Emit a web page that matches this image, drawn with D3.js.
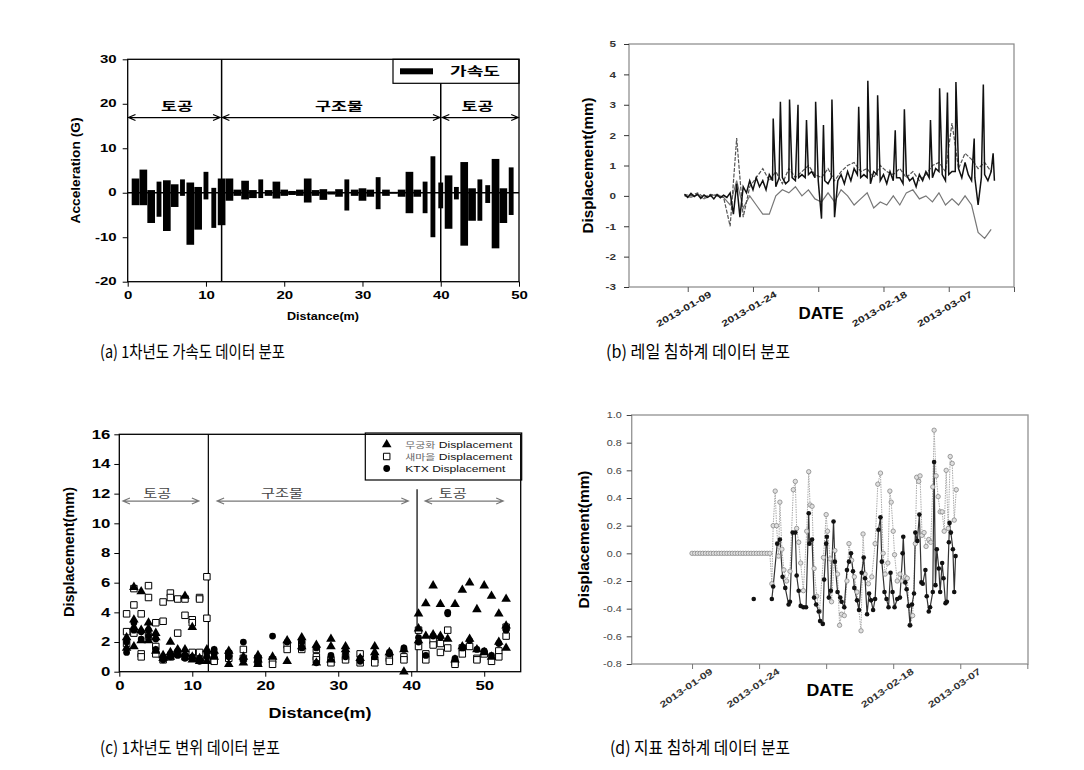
<!DOCTYPE html>
<html>
<head>
<meta charset="utf-8">
<script src="https://cdn.jsdelivr.net/npm/d3@7"></script>
<style>
body { margin: 0; background: #fff; }
svg { display: block; }
</style>
</head>
<body>
<svg id="fig" width="1084" height="770"></svg>
<script>
// ---------------- data: (a) acceleration bars ----------------
var accX = d3.range(1, 50);   // measuring points 1..49 m
var accTop = [3.2,5.2,0.6,2.5,2.8,1.9,3.0,2.3,1.3,4.7,1.1,3.2,3.2,0.7,2.7,0.6,3.0,0.6,2.5,0.7,0.4,0.7,3.2,0.6,0.8,0.3,0.8,3.0,0.7,1.0,0.7,3.5,0.7,0.2,0.7,4.7,0.7,2.5,8.2,2.3,3.9,1.3,6.9,1.0,3.0,1.7,7.6,1.0,5.7];
var accBottom = [-2.8,-2.8,-6.8,-5.4,-8.6,-3.2,-0.7,-11.7,-8.3,-1.5,-7.9,-7.3,-1.8,-0.7,-1.5,-1.2,-1.2,-0.7,-1.3,-0.7,-0.5,-0.7,-2.2,-0.7,-1.6,-0.4,-0.9,-4.0,-0.7,-1.8,-0.9,-3.7,-0.7,-0.2,-0.9,-4.6,-0.9,-4.6,-10.0,-3.5,-8.1,-1.5,-11.9,-6.3,-6.3,-2.3,-12.5,-6.8,-5.0];
var accNarrow = [4,7,10,11,17,28,32,38,39,40,42,45,46,49];
var accXTicks = [0,10,20,30,40,50];
var accYTicks = [-20,-10,0,10,20,30];
var zonesA = [
    { name: "토공", from: 0.1, to: 11.8, at: 6.3 },
    { name: "구조물", from: 12.1, to: 39.9, at: 27 },
    { name: "토공", from: 40.2, to: 49.9, at: 44.7 }
];
var zoneLevelA = 16.9;

// ---------------- data: (b) rail settlement ----------------
var dateTicks = [1,2,3,4,5,6];
var dateLabels = ["2013-01-09","2013-01-24","","2013-02-18","2013-03-07",""];
var railYTicks = [-3,-2,-1,0,1,2,3,4,5];
// base readings, sampled every 0.05 axis units from 0.95 (A) / every 0.1 (B, C)
var railA = [0.05,-0.05,0.08,-0.02,0.05,-0.08,0.03,-0.05,0.02,-0.1,
    0.04,-0.06,0.02,-0.05,0.1,-0.6,0.4,-0.7,0.3,0.1,
    0.5,0.2,0.6,0.3,0.5,0.2,0.7,0.5,0.3,0.6,
    0.6,0.4,0.5,0.6,0.5,0.6,0.7,0.6,0.7,0.8,
    0.6,0.5,-0.75,0.5,0.4,0.6,-0.7,0.5,0.7,0.4,
    0.8,0.5,0.9,0.7,0.6,0.7,0.6,0.4,0.8,0.7,
    0.5,0.7,0.4,0.8,0.5,0.6,0.6,0.4,0.7,0.5,
    0.6,0.3,0.7,0.5,0.8,0.6,0.6,0.9,0.8,0.7,
    0.5,0.7,0.8,0.8,0.9,0.6,1.1,0.7,0.5,0.6,
    -0.3,0.6,0.7,0.5,0.8,0.5];
// short peaks of series A: [axis position, value]
var railSpikes = [[2.31,2.55],[2.42,3.1],[2.56,3.17],[2.69,3.0],[2.82,2.5],[2.96,3.1],[3.08,2.33],[3.21,3.17],
    [3.62,2.93],[3.76,3.79],[3.91,3.31],[4.18,2.16],[4.32,2.85],[4.72,2.5],[4.86,3.54],[4.98,3.4],
    [5.11,3.75],[5.39,1.89],[5.53,3.67],[5.68,1.4]];
var railB = [0.05,0.0,0.1,-0.05,0.05,0.0,-0.05,-1.0,1.9,-0.7,
    0.3,0.6,0.9,0.5,0.8,0.4,0.9,0.6,0.8,1.0,
    0.7,0.6,0.9,0.5,0.8,1.0,1.1,0.8,0.9,0.6,
    1.0,0.8,0.7,0.9,0.6,0.8,0.5,0.7,1.0,1.1,
    0.8,2.4,0.9,1.4,1.2,0.9,1.1,0.8];
var railC = [0.0,-0.05,0.05,-0.1,0.0,0.05,-0.05,-0.3,0.5,-0.4,
    0.0,-0.3,-0.6,-0.6,0.0,0.2,0.1,0.3,0.0,0.2,
    -0.1,-0.2,0.1,-0.2,0.2,0.0,-0.3,-0.1,0.1,-0.4,
    -0.2,-0.3,0.0,-0.3,0.1,0.2,-0.1,0.0,-0.2,0.1,
    -0.3,-0.1,-0.3,0.0,-0.3,-1.2,-1.4,-1.1];

// ---------------- data: (c) displacement scatter ----------------
var disTri = [[1,[2.3,1.6]],[2,[5.7,3.5,3.0,1.7]],[3,[5.4,2.8,2.1]],[4,[3.3,2.9,2.1]],[5,[2.6,2.3,1.4]],[6,[1.1,0.9]],
    [7,[2.0,1.3,1.0]],[8,[1.5,1.2]],[9,[5.1,1.5,1.2]],[10,[3.0,1.0,0.8]],[11,[0.9,0.7]],[12,[1.5,0.7]],
    [13,[1.4,1.0]],[15,[1.4,0.5]],[17,[1.0,0.6]],[19,[1.1,0.8,0.5]],[21,[1.0]],[23,[2.1,0.7]],[25,[2.3,1.7]],
    [27,[1.8,0.6]],[29,[2.2,1.7,0.8]],[31,[1.7,1.5]],[33,[0.9]],[35,[1.7,1.3]],[37,[1.3]],[39,[1.5,0.0]],
    [41,[3.9,2.9,2.1]],[42,[4.6,2.4]],[43,[5.8,2.5]],[44,[4.55,2.4]],[45,[2.2]],[46,[4.55,0.8]],[47,[5.5,1.7]],
    [48,[6.0,2.2]],[49,[4.2,1.5]],[50,[5.8,1.3]],[51,[5.1,1.0]],[52,[3.9,2.0]],[53,[4.9,3.1,1.6]]];
var disSq = [[1,[3.9,2.7,1.9]],[2,[5.6,4.5,2.6]],[3,[3.9,1.2,1.0]],[4,[5.8,5.0,2.4]],[5,[3.3,1.7,1.2]],[6,[4.7,3.4,0.8]],
    [7,[5.3,5.0,1.0]],[8,[4.9,2.6,1.2]],[9,[4.9,3.8,1.0]],[10,[3.5,3.3,1.3]],[11,[5.0,4.9,1.3,0.8]],[12,[6.4,3.6,0.8]],
    [13,[0.8,0.7]],[15,[1.2,0.9]],[17,[1.5,0.9]],[19,[0.9,0.6]],[21,[0.8,0.5]],[23,[1.8,1.5]],[25,[1.9,1.5]],
    [27,[1.5,1.0,0.8]],[29,[0.8,0.6]],[31,[1.0,0.8]],[33,[1.2,0.6]],[35,[0.8,0.6]],[37,[0.9,0.7]],[39,[1.0,0.8]],
    [41,[2.8,1.7]],[42,[1.2,0.8]],[43,[2.1,1.8]],[44,[1.9,1.3]],[45,[2.8,1.6]],[46,[0.6,0.5]],[47,[1.6,1.2]],
    [48,[1.7]],[49,[0.9,0.8]],[50,[1.2]],[51,[0.7]],[52,[1.4,1.0]],[53,[3.0,2.4]]];
var disCirc = [[1,[2.0,1.3]],[2,[3.3,2.8]],[3,[2.7,2.2]],[4,[2.8,2.4]],[5,[2.2,1.5]],[6,[1.0,0.8]],
    [7,[1.2,1.0]],[8,[1.4,1.1]],[9,[1.1,0.9]],[10,[1.0,0.9]],[11,[0.8,0.7]],[12,[1.3,1.0]],
    [13,[1.5,1.2]],[15,[1.3,1.0]],[17,[2.0,0.8]],[19,[0.9,0.6]],[21,[2.4]],[23,[2.0]],[25,[2.0,1.6]],
    [27,[1.6,0.6]],[29,[1.1]],[31,[1.3,1.0]],[33,[0.9,0.7]],[35,[1.0]],[37,[1.3,1.2]],[39,[1.6,1.5]],
    [41,[2.3,2.0]],[42,[1.1]],[43,[2.4]],[44,[2.3]],[45,[4.0,3.9]],[46,[0.9]],[47,[1.6]],
    [48,[2.1]],[49,[1.5]],[50,[1.4]],[51,[1.1]],[52,[1.9]],[53,[2.8]]];
var disXTicks = [0,10,20,30,40,50];
var disYTicks = [0,2,4,6,8,10,12,14,16];
var legendC = [
    { kr: "무궁화", en: " Displacement", shape: "tri" },
    { kr: "새마을", en: " Displacement", shape: "sq" },
    { kr: "", en: "KTX   Displacement", shape: "circ" }
];
var zonesC = [
    { name: "토공", from: 0.5, to: 10.9, at: 5.2 },
    { name: "구조물", from: 13.4, to: 39.6, at: 22.3 },
    { name: "토공", from: 41.9, to: 52.6, at: 45.7 }
];
var zoneLevelC = 11.5;
var dividersC = [12.2, 40.8];

// ---------------- data: (d) surface settlement ----------------
var surfYTicks = [-0.8,-0.6,-0.4,-0.2,0.0,0.2,0.4,0.6,0.8,1.0];
var surfGray = [[1.00,0],[1.04,0],[1.08,0],[1.12,0],[1.16,0],[1.20,0],[1.24,0],[1.28,0],[1.32,0],[1.36,0],
    [1.40,0],[1.44,0],[1.48,0],[1.52,0],[1.56,0],[1.60,0],[1.64,0],[1.68,0],[1.72,0],[1.76,0],
    [1.80,0],[1.84,0],[1.88,0],[1.92,0],[1.96,0],[2.00,0],[2.04,0],[2.08,0],[2.12,0],[2.16,0],
    [2.19,-0.22],[2.21,0.20],[2.24,0.45],[2.26,0.20],[2.29,-0.02],[2.31,0.37],[2.34,0.03],[2.37,-0.12],[2.41,-0.20],
    [2.46,-0.13],[2.51,0.46],[2.54,0.52],[2.56,0.18],[2.59,0.08],[2.62,-0.07],[2.66,-0.27],[2.71,0.16],[2.74,0.59],
    [2.76,0.35],[2.79,0.34],[2.82,-0.11],[2.86,-0.31],[2.90,-0.42],[2.96,-0.03],[3.00,0.28],[3.02,0.16],[3.06,-0.04],
    [3.08,-0.35],[3.13,0.02],[3.17,-0.15],[3.20,-0.52],[3.23,-0.44],[3.27,-0.45],[3.31,-0.20],[3.34,0.07],[3.38,-0.05],
    [3.42,-0.17],[3.46,-0.28],[3.52,-0.56],[3.55,0.14],[3.58,-0.15],[3.63,-0.22],[3.68,-0.17],[3.73,0.07],[3.77,0.50],
    [3.81,0.58],[3.85,0.0],[3.88,-0.15],[3.92,-0.07],[3.95,0.45],[3.97,0.37],[4.00,0.16],[4.02,-0.01],[4.06,-0.20],
    [4.10,-0.15],[4.13,-0.20],[4.18,-0.17],[4.21,-0.18],[4.25,-0.52],[4.29,-0.45],[4.33,0.07],[4.35,0.55],[4.38,0.52],
    [4.40,0.56],[4.43,0.13],[4.46,0.15],[4.49,0.05],[4.53,0.10],[4.56,0.08],[4.59,0.48],[4.61,0.89],[4.64,0.56],
    [4.67,0.41],[4.70,0.30],[4.73,0.30],[4.76,0.16],[4.79,0.60],[4.82,0.18],[4.85,0.70],[4.88,0.65],[4.91,0.24],[4.94,0.46]];
var surfBlack = [[2.19,-0.33],[2.21,-0.24],[2.27,0.07],[2.31,0.10],[2.35,-0.17],[2.39,-0.25],[2.44,-0.37],[2.46,-0.35],
    [2.50,0.15],[2.54,0.15],[2.56,-0.16],[2.59,-0.27],[2.62,-0.38],[2.66,-0.39],[2.70,-0.39],[2.74,0.29],[2.75,0.07],
    [2.79,0.10],[2.82,-0.32],[2.85,-0.37],[2.89,-0.42],[2.91,-0.49],[2.95,-0.51],[2.97,-0.19],[3.00,0.07],[3.01,0.12],
    [3.04,-0.32],[3.07,-0.27],[3.11,0.23],[3.13,-0.06],[3.17,-0.28],[3.21,-0.32],[3.23,-0.35],[3.27,-0.39],[3.31,-0.12],
    [3.34,-0.06],[3.37,0.0],[3.40,-0.13],[3.42,-0.25],[3.46,-0.34],[3.49,-0.41],[3.53,-0.14],[3.56,-0.03],[3.58,-0.18],
    [3.61,-0.44],[3.64,-0.29],[3.67,-0.34],[3.70,-0.41],[3.73,-0.33],[3.78,0.17],[3.81,0.26],[3.83,-0.06],[3.87,-0.28],
    [3.90,-0.33],[3.93,-0.39],[3.96,-0.14],[3.99,-0.28],[4.02,-0.39],[4.06,-0.33],[4.10,-0.32],[4.14,0.0],[4.15,0.12],
    [4.18,-0.21],[4.20,-0.26],[4.23,-0.38],[4.25,-0.52],[4.28,-0.37],[4.31,-0.29],[4.33,0.15],[4.36,0.09],[4.39,0.28],
    [4.42,-0.21],[4.44,-0.22],[4.48,-0.12],[4.50,-0.31],[4.53,-0.42],[4.55,-0.39],[4.59,-0.28],[4.61,0.66],[4.63,-0.23],
    [4.65,0.03],[4.68,-0.11],[4.70,-0.28],[4.73,-0.07],[4.75,-0.18],[4.78,-0.36],[4.80,-0.35],[4.83,0.08],[4.84,0.22],
    [4.86,0.15],[4.89,0.03],[4.91,-0.28],[4.93,-0.02]];
var surfLone = [[1.92,-0.33]];

var captions = [
    { text: "(a) 1차년도 가속도 데이터 분포", x: 100, y: 358, w: 185 },
    { text: "(b) 레일 침하계 데이터 분포", x: 606, y: 358, w: 184 },
    { text: "(c) 1차년도 변위 데이터 분포", x: 100, y: 754, w: 180 },
    { text: "(d) 지표 침하계 데이터 분포", x: 610, y: 754, w: 180 }
];

// ---------------------------------------------------------------
var FONT = "'Liberation Sans', Arial, sans-serif";
var KR = "'Noto Sans CJK KR', sans-serif";
var svg = d3.select("#fig");
svg.append("rect").attr("width", 1084).attr("height", 770).attr("fill", "#fff");

function frame(g, x, y, col, sw) {
    g.append("rect")
        .attr("x", x.range()[0]).attr("y", y.range()[1])
        .attr("width", x.range()[1] - x.range()[0])
        .attr("height", y.range()[0] - y.range()[1])
        .attr("fill", "none").attr("stroke", col).attr("stroke-width", sw);
}

// tick labels in the picture look stretched sideways, so scale them in x
function styleTicks(axisG, size, weight, k, col) {
    axisG.attr("font-family", FONT).attr("color", col);
    axisG.select(".domain").remove();
    axisG.selectAll("text")
        .attr("font-size", size).attr("font-weight", weight).attr("fill", col)
        .each(function () {
            var t = d3.select(this);
            var x = +t.attr("x") || 0;
            t.attr("x", x / k).attr("transform", "scale(" + k + ",1)");
        });
}

function yTitle(g, text, cx, cy, size, len) {
    g.append("text")
        .attr("transform", "translate(" + cx + "," + cy + ") rotate(-90)")
        .attr("text-anchor", "middle").attr("dy", "0.35em")
        .attr("font-family", FONT).attr("font-weight", "bold").attr("font-size", size)
        .attr("textLength", len).attr("lengthAdjust", "spacingAndGlyphs")
        .text(text);
}

function xTitle(g, text, cx, cy, size, len) {
    g.append("text")
        .attr("x", cx - len / 2).attr("y", cy).attr("dy", "0.35em")
        .attr("font-family", FONT).attr("font-weight", "bold").attr("font-size", size)
        .attr("textLength", len).attr("lengthAdjust", "spacingAndGlyphs")
        .text(text);
}

function arrows(g, x, yPix, zones, col) {
    zones.forEach(function (z) {
        var x1 = x(z.from), x2 = x(z.to);
        var p = d3.path();
        p.moveTo(x1, yPix); p.lineTo(x2, yPix);
        p.moveTo(x1 + 7, yPix - 3); p.lineTo(x1, yPix); p.lineTo(x1 + 7, yPix + 3);
        p.moveTo(x2 - 7, yPix - 3); p.lineTo(x2, yPix); p.lineTo(x2 - 7, yPix + 3);
        g.append("path").attr("d", p.toString()).attr("fill", "none")
            .attr("stroke", col).attr("stroke-width", 1.2);
    });
}

function flatten(list) {
    var out = [];
    list.forEach(function (e) { e[1].forEach(function (v) { out.push([e[0], v]); }); });
    return out;
}

// ======================= (a) =======================
var xa = d3.scaleLinear().domain([0, 50]).range([127.7, 519]);
var ya = d3.scaleLinear().domain([-20, 30]).range([281.7, 59.3]);
var ga = svg.append("g");

ga.selectAll("rect.acc").data(accX).join("rect")
    .attr("class", "acc")
    .attr("x", function (d) { var w = accNarrow.includes(d) ? 0.62 : 0.98; return xa(d - w / 2); })
    .attr("width", function (d) { var w = accNarrow.includes(d) ? 0.62 : 0.98; return xa(w) - xa(0); })
    .attr("y", function (d, i) { return ya(accTop[i]); })
    .attr("height", function (d, i) { return ya(accBottom[i]) - ya(accTop[i]); })
    .attr("fill", "#000");

ga.append("line").attr("x1", xa(0)).attr("x2", xa(50)).attr("y1", ya(0)).attr("y2", ya(0))
    .attr("stroke", "#000").attr("stroke-width", 1.3);

// legend box
var legA = { x: 393, y: ya(30), w: 126, h: 24 };
ga.append("rect").attr("x", legA.x).attr("y", legA.y).attr("width", legA.w).attr("height", legA.h)
    .attr("fill", "#fff").attr("stroke", "#000").attr("stroke-width", 1.2);
ga.append("rect").attr("x", legA.x + 7).attr("y", legA.y + 9).attr("width", 33).attr("height", 6).attr("fill", "#000");
ga.append("text").attr("x", legA.x + 57).attr("y", legA.y + 12).attr("dy", "0.35em")
    .attr("font-family", KR).attr("font-weight", "bold").attr("font-size", 12)
    .attr("textLength", 50).attr("lengthAdjust", "spacingAndGlyphs").text("가속도");

// section dividers
ga.append("line").attr("x1", xa(12)).attr("x2", xa(12)).attr("y1", ya(30)).attr("y2", ya(-20))
    .attr("stroke", "#000").attr("stroke-width", 1.5);
ga.append("line").attr("x1", xa(40)).attr("x2", xa(40)).attr("y1", legA.y + legA.h).attr("y2", ya(-20))
    .attr("stroke", "#000").attr("stroke-width", 1.5);

arrows(ga, xa, ya(zoneLevelA), zonesA, "#000");
ga.selectAll("text.zone").data(zonesA).join("text")
    .attr("class", "zone")
    .attr("x", function (d) { return xa(d.at); }).attr("y", ya(zoneLevelA) - 11)
    .attr("text-anchor", "middle").attr("dy", "0.35em")
    .attr("font-family", KR).attr("font-weight", "bold").attr("font-size", 12)
    .attr("textLength", function (d) { return d.name.length * 16; }).attr("lengthAdjust", "spacingAndGlyphs")
    .text(function (d) { return d.name; });

frame(ga, xa, ya, "#000", 1.3);
styleTicks(ga.append("g").attr("transform", "translate(" + xa(0) + ",0)")
    .call(d3.axisLeft(ya).tickValues(accYTicks).tickSize(5).tickPadding(6).tickFormat(function (d) { return d; })),
    10, "bold", 1.5, "#000");
styleTicks(ga.append("g").attr("transform", "translate(0," + ya(-20) + ")")
    .call(d3.axisBottom(xa).tickValues(accXTicks).tickSize(5).tickPadding(5).tickFormat(function (d) { return d; })),
    10, "bold", 1.5, "#000");
yTitle(ga, "Acceleration (G)", 75, 170.5, 13, 106);
xTitle(ga, "Distance(m)", 323, 316, 11, 72);

// ======================= (b) =======================
var xb = d3.scaleLinear().domain([0.1, 6]).range([629, 1014]);
var yb = d3.scaleLinear().domain([-3, 5]).range([287, 44]);
var gb = svg.append("g");
var lineB = d3.line().x(function (d) { return xb(d[0]); }).y(function (d) { return yb(d[1]); });

var serC = railC.map(function (v, i) { return [0.95 + i * 0.1, v]; });
var serB = railB.map(function (v, i) { return [0.95 + i * 0.1, v]; });
var serA = railA.map(function (v, i) { return [0.95 + i * 0.05, v]; })
    .concat(railSpikes)
    .sort(function (p, q) { return p[0] - q[0]; });
gb.append("path").datum(serC).attr("d", lineB).attr("fill", "none").attr("stroke", "#777").attr("stroke-width", 1.2);
gb.append("path").datum(serB).attr("d", lineB).attr("fill", "none").attr("stroke", "#555")
    .attr("stroke-width", 1.2).attr("stroke-dasharray", "4,1.5");
gb.append("path").datum(serA).attr("d", lineB).attr("fill", "none").attr("stroke", "#111").attr("stroke-width", 1.5);

frame(gb, xb, yb, "#888", 1.2);
styleTicks(gb.append("g").attr("transform", "translate(" + xb.range()[0] + ",0)")
    .call(d3.axisLeft(yb).tickValues(railYTicks).tickSize(5).tickPadding(8).tickFormat(function (d) { return d; })),
    9, "bold", 1.3, "#333");
var axB = gb.append("g").attr("transform", "translate(0," + yb(-3) + ")")
    .call(d3.axisBottom(xb).tickValues(dateTicks).tickSize(5).tickFormat(""));
axB.attr("color", "#555").select(".domain").remove();
gb.selectAll("text.date").data(dateTicks).join("text")
    .attr("class", "date")
    .attr("transform", function (d) { return "translate(" + (xb(d) - 4) + "," + (yb(-3) + 22) + ") rotate(-30)"; })
    .attr("text-anchor", "middle").attr("dy", "0.35em")
    .attr("font-family", FONT).attr("font-weight", "bold").attr("font-size", 9).attr("fill", "#222")
    .attr("textLength", function (d, i) { return dateLabels[i] ? 62 : null; }).attr("lengthAdjust", "spacingAndGlyphs")
    .text(function (d, i) { return dateLabels[i]; });
yTitle(gb, "Displacement(mm)", 588.3, 165.5, 14, 136);
xTitle(gb, "DATE", 821, 313, 16, 45);

// ======================= (c) =======================
var xc = d3.scaleLinear().domain([0, 55]).range([119.3, 520.7]);
var yc = d3.scaleLinear().domain([0, 16]).range([671.7, 434.3]);
var gc = svg.append("g");

gc.append("line").attr("x1", xc(dividersC[0])).attr("x2", xc(dividersC[0])).attr("y1", yc(16)).attr("y2", yc(0))
    .attr("stroke", "#000").attr("stroke-width", 1.2);
gc.append("line").attr("x1", xc(dividersC[1])).attr("x2", xc(dividersC[1])).attr("y1", yc(12.3)).attr("y2", yc(0))
    .attr("stroke", "#000").attr("stroke-width", 1.2);

arrows(gc, xc, yc(zoneLevelC), zonesC, "#777");
gc.selectAll("text.zone").data(zonesC).join("text")
    .attr("class", "zone")
    .attr("x", function (d) { return xc(d.at); }).attr("y", yc(zoneLevelC) - 7)
    .attr("text-anchor", "middle").attr("dy", "0.35em")
    .attr("font-family", KR).attr("font-size", 12).attr("fill", "#444")
    .attr("textLength", function (d) { return d.name.length * 14; }).attr("lengthAdjust", "spacingAndGlyphs")
    .text(function (d) { return d.name; });

var symTri = d3.symbol().type(d3.symbolTriangle).size(40);
var symSq = d3.symbol().type(d3.symbolSquare).size(42);
var symCirc = d3.symbol().type(d3.symbolCircle).size(36);
gc.selectAll("path.sq").data(flatten(disSq)).join("path").attr("class", "sq")
    .attr("transform", function (d) { return "translate(" + xc(d[0]) + "," + yc(d[1]) + ")"; })
    .attr("d", symSq).attr("fill", "#fff").attr("stroke", "#000").attr("stroke-width", 1);
gc.selectAll("path.circ").data(flatten(disCirc)).join("path").attr("class", "circ")
    .attr("transform", function (d) { return "translate(" + xc(d[0]) + "," + yc(d[1]) + ")"; })
    .attr("d", symCirc).attr("fill", "#000");
gc.selectAll("path.tri").data(flatten(disTri)).join("path").attr("class", "tri")
    .attr("transform", function (d) { return "translate(" + xc(d[0]) + "," + yc(d[1]) + ")"; })
    .attr("d", symTri).attr("fill", "#000");

// legend
var legC = { x: 365.3, y: 433, w: 156.4, h: 47 };
gc.append("rect").attr("x", legC.x).attr("y", legC.y).attr("width", legC.w).attr("height", legC.h)
    .attr("fill", "#fff").attr("stroke", "#000").attr("stroke-width", 1.2);
legendC.forEach(function (e, i) {
    var cy = legC.y + 11.5 + i * 12;
    var sym = e.shape === "tri" ? symTri : e.shape === "sq" ? symSq : symCirc;
    gc.append("path").attr("transform", "translate(" + (legC.x + 21.4) + "," + cy + ")")
        .attr("d", sym).attr("fill", e.shape === "sq" ? "#fff" : "#000").attr("stroke", e.shape === "sq" ? "#000" : "none");
    var t = gc.append("text").attr("x", legC.x + 40).attr("y", cy).attr("dy", "0.35em")
        .attr("font-family", FONT).attr("font-size", 9.5)
        .attr("textLength", i === 2 ? 100 : 107).attr("lengthAdjust", "spacingAndGlyphs");
    if (e.kr) t.append("tspan").attr("font-family", KR).attr("font-size", 8.5).attr("fill", "#666").text(e.kr);
    t.append("tspan").attr("fill", "#111").text(e.en);
});

frame(gc, xc, yc, "#000", 1.3);
styleTicks(gc.append("g").attr("transform", "translate(" + xc(0) + ",0)")
    .call(d3.axisLeft(yc).tickValues(disYTicks).tickSize(5).tickPadding(4).tickFormat(function (d) { return d; })),
    12, "bold", 1.4, "#000");
styleTicks(gc.append("g").attr("transform", "translate(0," + yc(0) + ")")
    .call(d3.axisBottom(xc).tickValues(disXTicks).tickSize(5).tickPadding(5).tickFormat(function (d) { return d; })),
    12, "bold", 1.4, "#000");
yTitle(gc, "Displacement(mm)", 69.3, 552, 14, 130);
xTitle(gc, "Distance(m)", 320, 713, 14, 103);

// ======================= (d) =======================
var xd = d3.scaleLinear().domain([0.1, 6.01]).range([631.7, 1028]);
var yd = d3.scaleLinear().domain([-0.8, 1.0]).range([664, 415]);
var gd = svg.append("g");
var lineD = d3.line().x(function (d) { return xd(d[0]); }).y(function (d) { return yd(d[1]); });

gd.append("path").datum(surfGray).attr("d", lineD).attr("fill", "none")
    .attr("stroke", "#aaa").attr("stroke-width", 1).attr("stroke-dasharray", "1.5,1");
gd.append("path").datum(surfBlack).attr("d", lineD).attr("fill", "none")
    .attr("stroke", "#333").attr("stroke-width", 1.2);
gd.selectAll("circle.gray").data(surfGray).join("circle").attr("class", "gray")
    .attr("cx", function (d) { return xd(d[0]); }).attr("cy", function (d) { return yd(d[1]); })
    .attr("r", 2.2).attr("fill", "#e0e0e0").attr("stroke", "#888").attr("stroke-width", 0.8);
gd.selectAll("circle.black").data(surfBlack.concat(surfLone)).join("circle").attr("class", "black")
    .attr("cx", function (d) { return xd(d[0]); }).attr("cy", function (d) { return yd(d[1]); })
    .attr("r", 2.3).attr("fill", "#111");

frame(gd, xd, yd, "#999", 1.4);
styleTicks(gd.append("g").attr("transform", "translate(" + xd.range()[0] + ",0)")
    .call(d3.axisLeft(yd).tickValues(surfYTicks).tickSize(5).tickPadding(5).tickFormat(function (d) { return d.toFixed(1); })),
    9, "normal", 1.2, "#444");
var axD = gd.append("g").attr("transform", "translate(0," + yd(-0.8) + ")")
    .call(d3.axisBottom(xd).tickValues(dateTicks).tickSize(5).tickFormat(""));
axD.attr("color", "#777").select(".domain").remove();
gd.selectAll("text.date").data(dateTicks).join("text")
    .attr("class", "date")
    .attr("transform", function (d) { return "translate(" + (xd(d) - 6) + "," + (yd(-0.8) + 24) + ") rotate(-35)"; })
    .attr("text-anchor", "middle").attr("dy", "0.35em")
    .attr("font-family", FONT).attr("font-weight", "bold").attr("font-size", 9).attr("fill", "#333")
    .attr("textLength", function (d, i) { return dateLabels[i] ? 62 : null; }).attr("lengthAdjust", "spacingAndGlyphs")
    .text(function (d, i) { return dateLabels[i]; });
yTitle(gd, "Displacement(mm)", 584, 539.5, 14, 138);
xTitle(gd, "DATE", 830, 690, 16, 47);

// ======================= captions =======================
svg.selectAll("text.caption").data(captions).join("text")
    .attr("class", "caption")
    .attr("x", function (d) { return d.x; }).attr("y", function (d) { return d.y; })
    .attr("font-family", KR).attr("font-weight", 400).attr("font-size", 17).attr("fill", "#000")
    .attr("textLength", function (d) { return d.w; }).attr("lengthAdjust", "spacingAndGlyphs")
    .text(function (d) { return d.text; });
</script>
</body>
</html>
